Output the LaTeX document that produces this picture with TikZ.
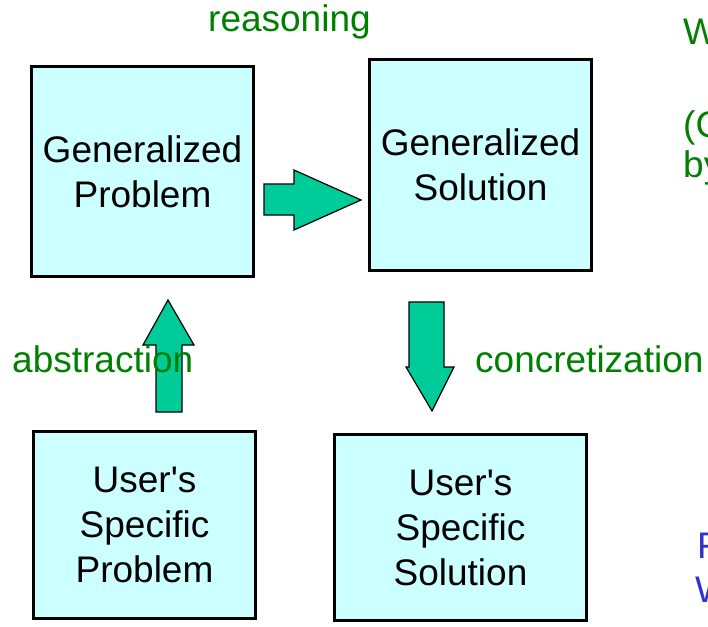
\documentclass[tikz,border=0pt]{standalone}
\usepackage{fontspec}
\setmainfont{Liberation Sans}
\usetikzlibrary{positioning}
\definecolor{boxfill}{HTML}{CCFFFF}
\definecolor{arrowfill}{HTML}{00CC99}
\definecolor{labelgreen}{HTML}{008000}
\definecolor{noteblue}{HTML}{3333CC}

\begin{document}
\begin{tikzpicture}[
    x=1pt, y=-1pt,
    font=\fontsize{37}{45}\selectfont,
    stage/.style={draw=black, fill=boxfill, line width=3.2pt, align=center, inner sep=0pt},
    fatarrow/.style={draw=black, fill=arrowfill, line width=1.2pt, line join=miter},
    stagetext/.style={text=labelgreen, inner sep=0pt, anchor=base west},
    notetext/.style={text=noteblue, inner sep=0pt, anchor=base west}
  ]
    \clip (0,0) rectangle (708,626);

    \node[stage, minimum width=222pt, minimum height=210pt] (gprob) at (142.5,171.5) {Generalized\\Problem};
    \node[stage, minimum width=222pt, minimum height=211pt] (gsol) at (480.5,165) {Generalized\\Solution};
    \node[stage, minimum width=222pt, minimum height=187pt] (uprob) at (144.5,525) {User\textquotesingle s\\Specific\\Problem};
    \node[stage, minimum width=252pt, minimum height=186pt] (usol) at (460.5,527.5) {User\textquotesingle s\\Specific\\Solution};

    \draw[fatarrow] (264,184) -- (294,184) -- (294,170) -- (361,200) -- (294,230) -- (294,215) -- (264,215) -- cycle;
    \draw[fatarrow] (156,412) -- (156,345) -- (143,345) -- (168,300) -- (194,345) -- (182,345) -- (182,412) -- cycle;
    \draw[fatarrow] (409,302) -- (444,302) -- (444,367) -- (454,367) -- (432,411) -- (406,367) -- (409,367) -- cycle;

    \node[stagetext] (reason) at (208,31) {reasoning};
    \node[stagetext] (abstr) at (12,372) {abstraction};
    \node[stagetext] (concr) at (475,372) {concretization};

    \node[stagetext] (sideW) at (683,45) {W};
    \node[stagetext] (sideC) at (683,137) {(C};
    \node[stagetext] (sideby) at (683,177) {by};
    \node[notetext] (sideF) at (697,558) {F};
    \node[notetext] (sideW2) at (695,602) {W};
  \end{tikzpicture}
\end{document}
